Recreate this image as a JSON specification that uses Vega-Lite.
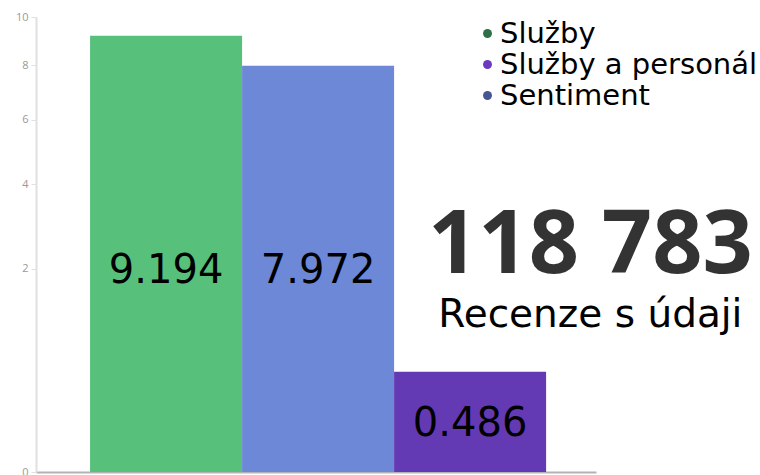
{
  "$schema": "https://vega.github.io/schema/vega-lite/v6.json",
  "width": 560,
  "height": 455,
  "autosize": "none",
  "padding": {"left": 36, "top": 17, "right": 164, "bottom": 3},
  "background": "white",
  "config": {"view": {"stroke": null}, "font": "DejaVu Sans"},
  "layer": [
    {
      "data": {"values": [
        {"category": "Služby", "value": 9.194, "label": "9.194"},
        {"category": "Sentiment", "value": 7.972, "label": "7.972"},
        {"category": "Služby a personál", "value": 0.486, "label": "0.486"}
      ]},
      "encoding": {
        "x": {"field": "category", "type": "nominal", "sort": ["Služby", "Sentiment", "Služby a personál"],
          "scale": {"paddingInner": 0, "paddingOuter": 0.342, "align": 0.52},
          "axis": {"title": null, "labels": false, "ticks": false, "grid": false, "domainColor": "#b3b3b3", "domainWidth": 2}}
      },
      "layer": [
        {
          "mark": {"type": "bar"},
          "encoding": {
            "y": {"field": "value", "type": "quantitative", "scale": {"type": "sqrt", "domain": [0, 10]},
              "axis": {"title": null, "values": [0, 2, 4, 6, 8, 10], "grid": false, "domainColor": "#e0e0e0", "domainWidth": 2,
                "tickColor": "#e0e0e0", "tickSize": 5, "labelColor": "#999999", "labelFontSize": 11, "labelPadding": 3, "labelFont": "Open Sans"}},
            "fill": {"field": "category", "type": "nominal",
              "scale": {"domain": ["Služby", "Sentiment", "Služby a personál"], "range": ["#57c17b", "#6e88d8", "#6439b4"]},
              "legend": null}
          }
        },
        {
          "mark": {"type": "point", "filled": true, "opacity": 0},
          "encoding": {
            "y": {"field": "value", "type": "quantitative"},
            "color": {"field": "category", "type": "nominal",
              "scale": {"domain": ["Služby", "Služby a personál", "Sentiment"], "range": ["#2e6f46", "#6a3bc2", "#455690"]},
              "legend": {"title": null, "orient": "none", "legendX": 437, "legendY": 2, "padding": 0,
                "symbolType": "circle", "symbolSize": 80, "symbolOpacity": 1, "symbolStrokeWidth": 0,
                "labelFont": "DejaVu Sans", "labelFontSize": 29, "labelColor": "black", "labelOffset": -2, "rowPadding": 1, "labelLimit": 400}}
          }
        },
        {
          "transform": [{"calculate": "min(datum.value / 4, 2)", "as": "mid"}],
          "mark": {"type": "text", "fontSize": 40, "font": "DejaVu Sans", "color": "black", "baseline": "middle", "align": "center", "dy": 2},
          "encoding": {
            "y": {"field": "mid", "type": "quantitative"},
            "text": {"field": "label"}
          }
        }
      ]
    },
    {
      "layer": [
        {
          "data": {"values": [{"text": "118 783"}]},
          "mark": {"type": "text", "font": "Open Sans", "fontWeight": "bold", "fontSize": 88, "color": "#333333", "align": "center", "baseline": "alphabetic"},
          "encoding": {
            "x": {"datum": 0.99, "type": "quantitative", "scale": {"domain": [0, 1]}, "axis": null},
            "y": {"datum": 0.437, "type": "quantitative", "scale": {"domain": [0, 1]}, "axis": null},
            "text": {"field": "text"}
          }
        },
        {
          "data": {"values": [{"text": "Recenze s údaji"}]},
          "mark": {"type": "text", "font": "DejaVu Sans", "fontSize": 39, "color": "black", "align": "center", "baseline": "alphabetic"},
          "encoding": {
            "x": {"datum": 0.99, "type": "quantitative", "scale": {"domain": [0, 1]}, "axis": null},
            "y": {"datum": 0.319, "type": "quantitative", "scale": {"domain": [0, 1]}, "axis": null},
            "text": {"field": "text"}
          }
        }
      ]
    }
  ],
  "resolve": {"scale": {"x": "independent", "y": "independent"}}
}
